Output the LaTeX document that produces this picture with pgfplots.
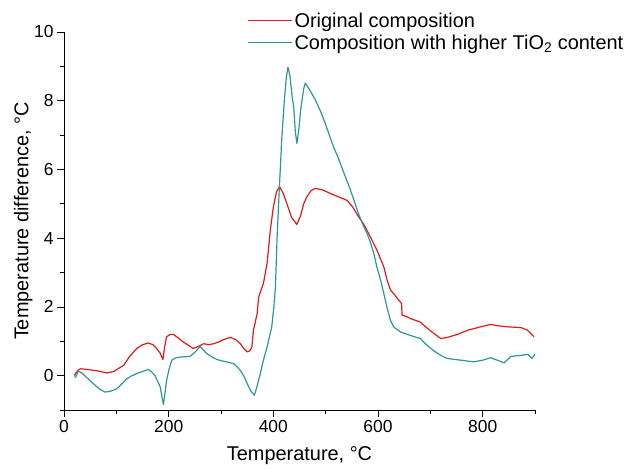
\documentclass[border=0pt]{standalone}
\usepackage{fontspec}
\setmainfont{Liberation Sans}
\usepackage{pgfplots}
\pgfplotsset{compat=1.18}
\definecolor{cred}{RGB}{225,25,25}
\definecolor{cteal}{RGB}{45,150,150}
\begin{document}
\begin{tikzpicture}
\useasboundingbox (-64bp,-59bp) rectangle (561bp,410bp);
\begin{axis}[
  scale only axis,
  width=471bp, height=378bp,
  xmin=0, xmax=900, ymin=-1, ymax=10,
  axis lines=left,
  axis line style={-, line width=0.8pt},
  xtick={0,200,400,600,800},
  minor xtick={100,300,500,700,900},
  ytick={0,2,4,6,8,10},
  minor ytick={-1,1,3,5,7,9},
  tick align=outside,
  major tick length=7bp,
  minor tick length=4bp,
  tick style={black, line width=0.8pt},
  /pgf/number format/assume math mode=true,
  ticklabel style={font=\fontsize{17.5}{19}\selectfont},
  label style={font=\fontsize{20}{23}\selectfont},
  xlabel={Temperature, °C},
  ylabel={Temperature difference, °C},
  xlabel style={at={(axis description cs:0.5,0)}, anchor=north, yshift=-33bp},
  ylabel style={at={(axis description cs:0,0.5)}, anchor=south, yshift=28bp},
  legend style={at={(rel axis cs:0.39,1.055)}, anchor=north west, draw=none, fill=none,
    font=\fontsize{20}{23}\selectfont, row sep=3bp, inner sep=0pt,
    nodes={inner sep=1.5bp}},
  legend cell align=left,
  legend image code/.code={\draw[#1, line width=1.2pt] plot coordinates {(0cm,0cm) (0.8cm,0cm) (1.55cm,0cm)};},
]
\addplot[cred, line width=1.2pt, line join=round] coordinates {
(20,0.0)(22,0.06)(27,0.15)(31,0.2)(45,0.18)(63,0.14)(82,0.08)(95,0.12)(114,0.3)(125,0.55)(139,0.79)(150,0.9)(161,0.95)(170,0.9)(177,0.79)(184,0.65)(189,0.47)(192,0.8)(196,1.13)(203,1.2)(209,1.2)(218,1.1)(228,0.98)(238,0.88)(247,0.79)(257,0.85)(267,0.93)(276,0.9)(286,0.93)(296,0.98)(305,1.05)(318,1.11)(328,1.05)(337,0.93)(344,0.78)(350,0.69)(355,0.72)(359,0.83)(362,1.32)(369,1.8)(372,2.29)(381,2.68)(388,3.26)(394,4.2)(400,4.9)(406,5.35)(412,5.5)(419,5.3)(426,5.0)(435,4.6)(445,4.4)(452,4.65)(458,5.0)(464,5.2)(472,5.38)(480,5.45)(495,5.4)(509,5.3)(525,5.2)(541,5.1)(552,4.9)(563,4.62)(573,4.4)(582,4.14)(590,3.9)(598,3.65)(611,3.17)(618,2.75)(624,2.49)(632,2.35)(640,2.19)(645,2.1)(646,1.76)(655,1.72)(662,1.66)(681,1.56)(691,1.42)(705,1.25)(720,1.08)(732,1.11)(752,1.2)(771,1.32)(796,1.42)(815,1.49)(830,1.45)(847,1.42)(873,1.4)(886,1.32)(898,1.13)
};
\addlegendentry{Original composition}
\addplot[cteal, line width=1.2pt, line join=round] coordinates {
(20,-0.04)(22,-0.05)(25,0.05)(27,0.13)(34,0.08)(45,-0.08)(56,-0.23)(67,-0.38)(78,-0.48)(90,-0.45)(101,-0.38)(110,-0.25)(120,-0.09)(130,0.0)(139,0.06)(150,0.12)(161,0.18)(168,0.1)(174,0.0)(180,-0.2)(184,-0.33)(187,-0.6)(190,-0.84)(193,-0.5)(196,-0.14)(201,0.2)(206,0.45)(214,0.52)(222,0.54)(232,0.55)(241,0.56)(248,0.65)(254,0.74)(260,0.85)(266,0.75)(273,0.64)(282,0.55)(292,0.47)(301,0.43)(311,0.4)(324,0.35)(330,0.27)(337,0.15)(344,-0.02)(350,-0.23)(357,-0.45)(364,-0.57)(369,-0.3)(375,0.05)(381,0.45)(388,0.83)(397,1.42)(401,2.0)(404,2.58)(407,3.94)(411,5.3)(416,6.86)(421,8.0)(425,8.7)(428,8.98)(432,8.7)(436,8.1)(439,7.83)(442,7.1)(445,6.76)(449,7.2)(452,7.7)(455,8.03)(458,8.35)(461,8.51)(466,8.4)(472,8.25)(480,8.03)(490,7.7)(499,7.35)(507,7.0)(515,6.66)(525,6.3)(535,5.89)(545,5.5)(554,5.11)(563,4.7)(573,4.33)(579,4.14)(585,3.9)(592,3.56)(598,3.15)(605,2.78)(611,2.4)(617,2.0)(624,1.6)(630,1.42)(643,1.27)(662,1.17)(681,1.08)(694,0.88)(707,0.72)(720,0.59)(732,0.5)(758,0.45)(783,0.4)(800,0.45)(815,0.52)(828,0.45)(841,0.37)(854,0.56)(873,0.59)(887,0.62)(894,0.5)(900,0.62)
};
\addlegendentry{Composition with higher TiO\textsubscript{2} content}
\end{axis}
\end{tikzpicture}
\end{document}
